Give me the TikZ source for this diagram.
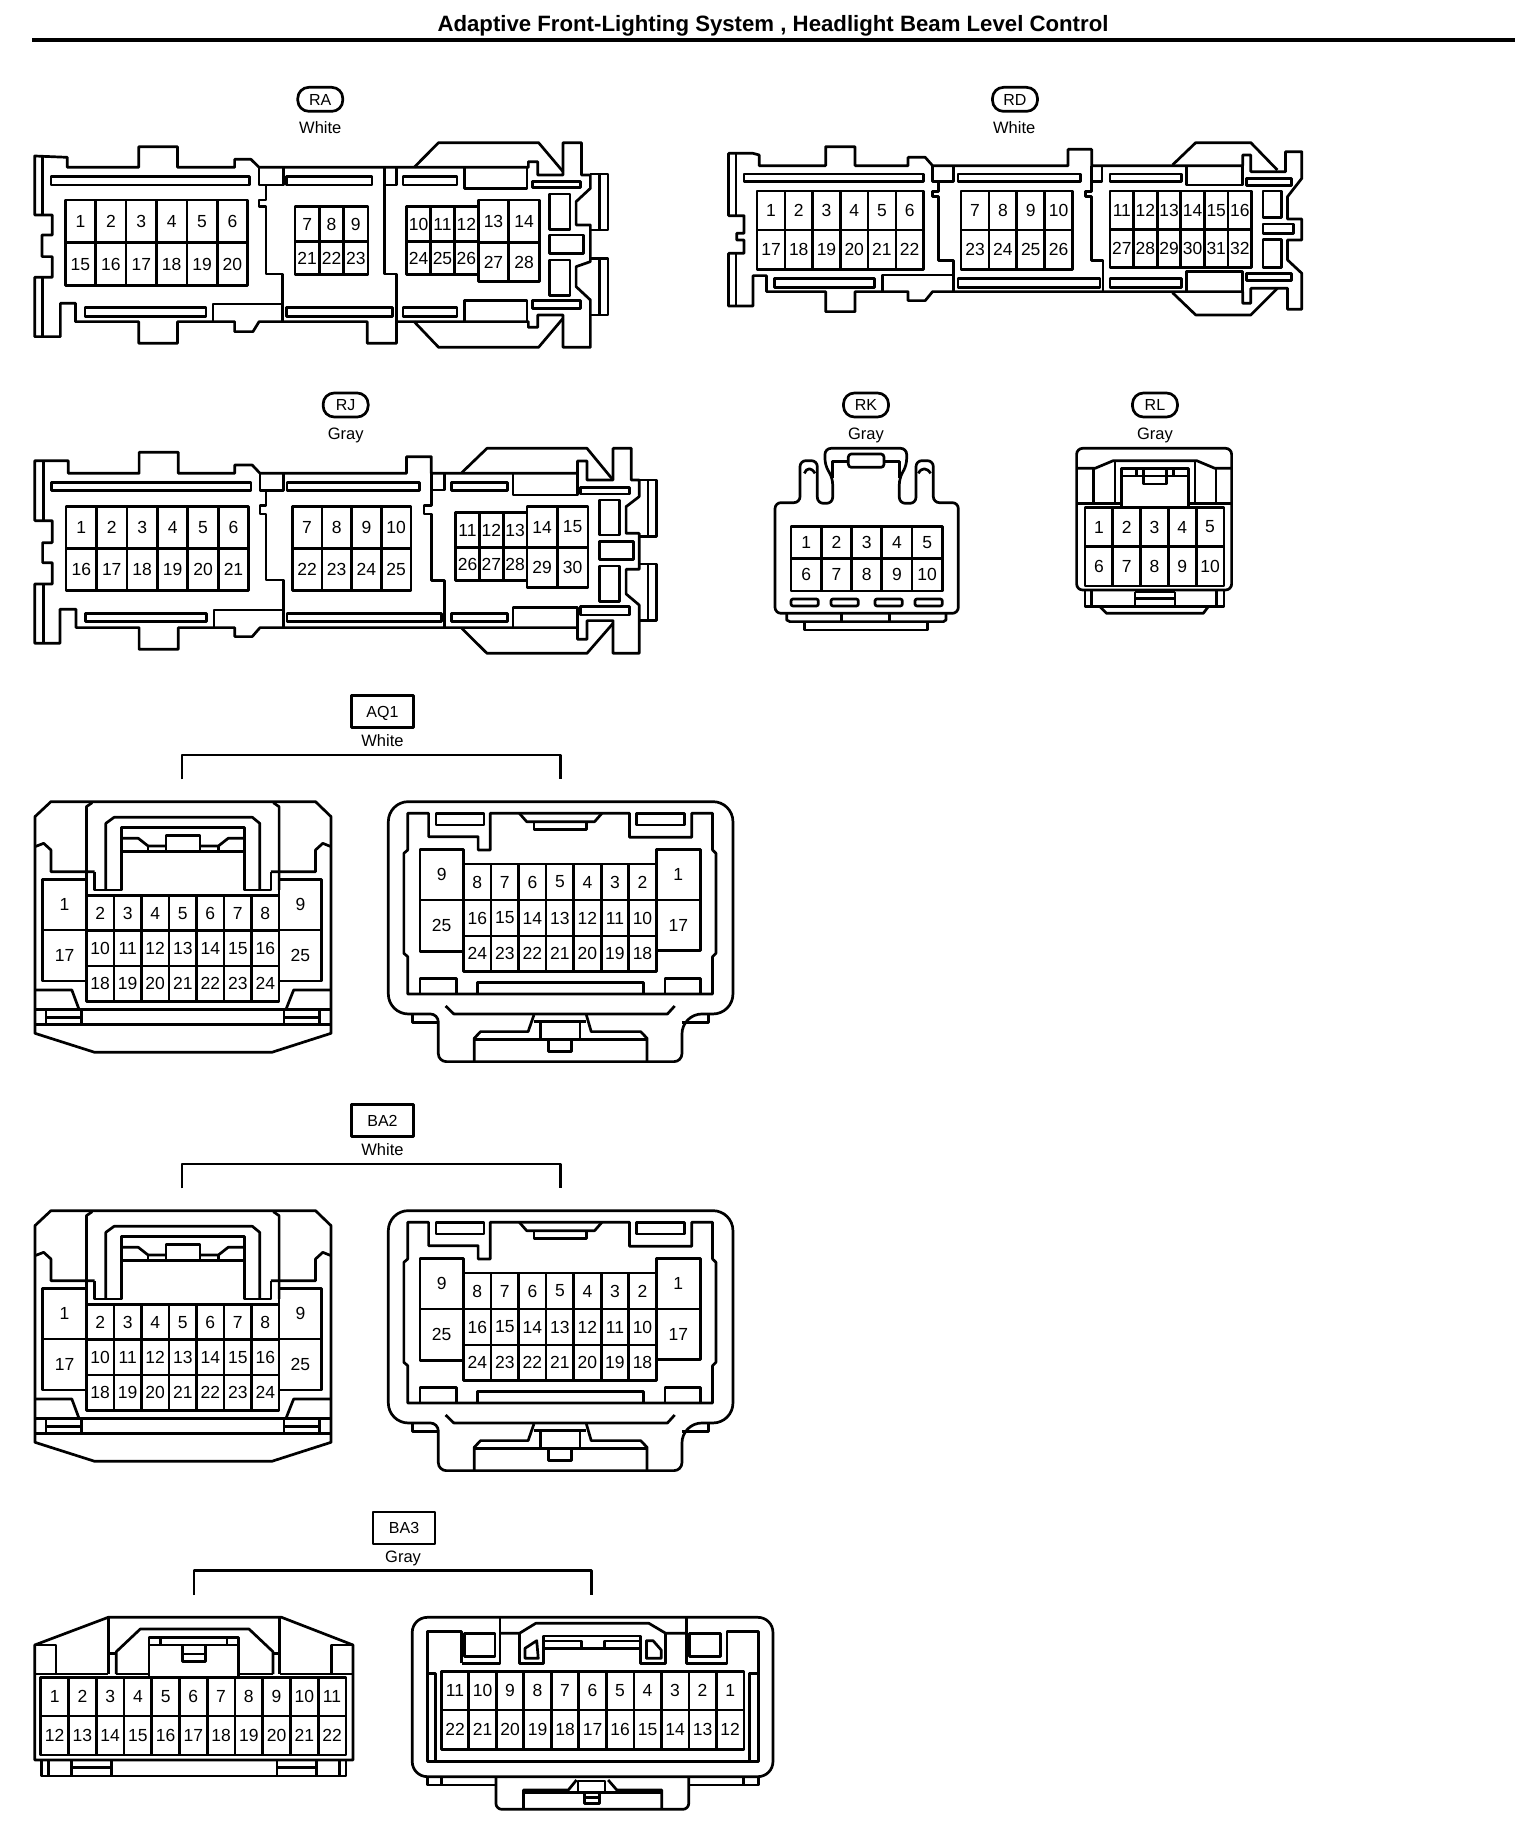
\documentclass[tikz,border=0pt]{standalone}
\usepackage{fontspec}
\setmainfont{Liberation Sans}
\newcommand{\pinrow}[7]{%
	\draw (#1,#4) rectangle (#2,#5);
	\foreach \k in {1,...,#3}{%
		\pgfmathsetmacro{\xa}{#1+(\k-1)*(#2-#1)/#3}
		\pgfmathsetmacro{\xb}{#1+\k*(#2-#1)/#3}
		\pgfmathtruncatemacro{\pinno}{#6+(\k-1)*(#7)}
		\ifnum\k<#3 \draw (\xb,#4) -- (\xb,#5);\fi
		\node[pin] (\conn-\pinno) at ({(\xa+\xb)/2},{(#4+#5)/2}) {\pinno};
	}}
% the white two-part housing, drawn twice
\newcommand{\twinhousing}[3]{%
	\node[tagbox] (#1tag) at (788,64) {#2};
	\node[collab] (#1col) at (788,150) {#3};
	\draw (375,268) -- (375,195) -- (1155,195) -- (1155,268);
	% left half
	\draw (105,335) -- (650,335) -- (682,380) -- (682,1030) -- (560,1087) -- (195,1087) -- (72,1030) -- (72,380) -- cycle;
	\draw (178,600) -- (178,350) -- (190,338);
	\draw (575,600) -- (575,350) -- (563,338);
	\draw (218,600) -- (218,400) -- (235,382) -- (520,382) -- (535,400) -- (535,600);
	\draw (195,545) -- (195,600) -- (250,600) -- (250,412) -- (503,412) -- (503,600) -- (558,600) -- (558,545);
	\draw (72,470) -- (90,460) -- (105,480) -- (105,545) -- (195,545);
	\draw (682,470) -- (665,460) -- (650,480) -- (650,545) -- (558,545);
	\draw (250,445) -- (285,445) -- (305,468) -- (342,468);
	\draw (342,485) -- (342,437) -- (412,437) -- (412,485);
	\draw (412,468) -- (450,468) -- (470,445) -- (503,445);
	\draw (250,485) -- (503,485);
	\draw (305,468) -- (305,485);
	\draw (450,468) -- (450,485);
	\def\conn{#1l}
	\pinrow{88}{178}{1}{568}{720}{1}{0}
	\pinrow{88}{178}{1}{720}{873}{17}{0}
	\pinrow{178}{575}{7}{617}{722}{2}{1}
	\pinrow{178}{575}{7}{722}{828}{10}{1}
	\pinrow{178}{575}{7}{828}{935}{18}{1}
	\pinrow{575}{663}{1}{568}{720}{9}{0}
	\pinrow{575}{663}{1}{720}{873}{25}{0}
	\draw (72,900) -- (148,900) -- (162,955);
	\draw (682,900) -- (605,900) -- (590,955);
	\draw (72,958) -- (682,958);
	\draw (72,1003) -- (682,1003);
	\draw (95,958) -- (95,1003);
	\draw (658,958) -- (658,1003);
	\draw (168,958) -- (168,1003);
	\draw (585,958) -- (585,1003);
	\draw (95,982) -- (168,982);
	\draw (585,982) -- (658,982);
	% right half
	\draw[rounded corners=20pt] (800,335) -- (1510,335) -- (1510,972) -- (1405,972) [rounded corners=8pt] -- (1405,1115) -- (903,1115) -- (903,972) [rounded corners=20pt] -- (800,972) -- cycle;
	\draw (840,912) -- (840,800) -- (832,790) -- (832,490) -- (840,480) -- (840,370) -- (883,370) -- (883,440) -- (985,440) -- (985,480) -- (1010,480) -- (1010,370) -- (1297,370) -- (1297,442) -- (1425,442) -- (1425,370) -- (1468,370) -- (1468,480) -- (1475,490) -- (1475,790) -- (1468,800) -- (1468,912) -- cycle;
	\draw (1070,370) -- (1085,395) -- (1225,395) -- (1240,370);
	\draw (1100,395) -- (1100,418) -- (1208,418) -- (1208,395);
	\draw (898,370) rectangle (997,405);
	\draw (1312,370) rectangle (1410,405);
	\draw (865,912) -- (865,865) -- (940,865) -- (940,912);
	\draw (1370,912) -- (1370,865) -- (1443,865) -- (1443,912);
	\draw (983,912) -- (983,877) -- (1325,877) -- (1325,912);
	\def\conn{#1r}
	\pinrow{865}{955}{1}{478}{630}{9}{0}
	\pinrow{865}{955}{1}{630}{785}{25}{0}
	\pinrow{955}{1352}{7}{522}{630}{8}{-1}
	\pinrow{955}{1352}{7}{630}{738}{16}{-1}
	\pinrow{955}{1352}{7}{738}{845}{24}{-1}
	\pinrow{1352}{1443}{1}{478}{630}{1}{0}
	\pinrow{1352}{1443}{1}{630}{782}{17}{0}
	\draw (918,948) -- (935,972) -- (1375,972) -- (1390,948);
	\draw (1100,975) -- (1088,1025) -- (990,1025) -- (977,1045) -- (977,1115);
	\draw (1208,975) -- (1218,1025) -- (1320,1025) -- (1333,1045) -- (1333,1115);
	\draw (977,1048) -- (1333,1048);
	\draw (1113,995) -- (1113,1048);
	\draw (1195,995) -- (1195,1048);
	\draw (1100,995) -- (1208,995);
	\draw (1130,1048) -- (1130,1085) -- (1178,1085) -- (1178,1048);
	\draw (850,972) -- (850,997) -- (903,997);
	\draw (1405,997) -- (1460,997) -- (1460,972);
}
\begin{document}
\begin{tikzpicture}[x=1pt,y=-1pt,line width=2.7pt,line join=round]
	\tikzstyle{pin}=[font=\fontsize{17.5}{18}\selectfont,inner sep=0pt];
	\tikzstyle{collab}=[font=\fontsize{16.5}{17}\selectfont,inner sep=0pt,text height=12pt,text depth=0pt];
	\tikzstyle{tagoval}=[draw,rounded corners=11pt,minimum width=45pt,minimum height=24pt,inner sep=0pt,font=\fontsize{16}{16}\selectfont,text height=11.5pt,text depth=0pt];
	\tikzstyle{tagbox}=[draw,minimum width=62pt,minimum height=32pt,inner sep=0pt,font=\fontsize{16}{16}\selectfont,text height=11.5pt,text depth=0pt];
	\useasboundingbox (0,0) rectangle (1536,1836);
	\node[font=\bfseries\fontsize{22.2}{22}\selectfont,inner sep=0pt] (title) at (773,26) {Adaptive Front-Lighting System , Headlight Beam Level Control};
	\coordinate (ruleL) at (32,40);
	\coordinate (ruleR) at (1515,40);
	\draw[line width=3.5pt] (ruleL) -- (ruleR);

	% RA
	\begin{scope}[shift={(0,70)},xscale=0.408,yscale=0.3333]
		\def\conn{RA}
		\node[tagoval] (RAtag) at (785,88) {RA};
		\node[collab] (RAcol) at (785,172) {White};
		\draw (165,292) -- (165,262) -- (85,258) -- (85,435) -- (128,435) -- (128,495) -- (103,495) -- (103,560) -- (128,560) -- (128,622) -- (85,622) -- (85,800) -- (148,800) -- (148,700) -- (185,700) -- (185,755) -- (340,755) -- (340,820) -- (435,820) -- (435,755) -- (575,755) -- (575,785) -- (620,785) -- (635,755) -- (900,755) -- (900,820) -- (972,820) -- (972,755) -- (1295,755) -- (1295,772) -- (1318,772) -- (1318,735) -- (1380,735) -- (1380,832) -- (1447,832) -- (1447,690) -- (1412,650) -- (1412,590) -- (1447,575) -- (1447,465) -- (1412,465) -- (1412,395) -- (1447,355) -- (1447,315) -- (1425,315) -- (1425,218) -- (1380,218) -- (1380,315) -- (1318,315) -- (1318,275) -- (1295,275) -- (1295,292) -- (635,292) -- (615,268) -- (575,268) -- (575,292) -- (435,292) -- (435,230) -- (340,230) -- (340,292) -- cycle;
		\draw (1015,292) -- (1075,218) -- (1320,218) -- (1380,305);
		\draw (1015,755) -- (1075,832) -- (1320,832) -- (1380,745);
		\draw (1447,312) -- (1490,312) -- (1490,480) -- (1447,480);
		\draw (1447,735) -- (1490,735) -- (1490,565) -- (1447,565);
		\draw (1470,312) -- (1470,480);
		\draw (1470,565) -- (1470,735);
		\draw (105,258) -- (105,435);
		\draw (105,622) -- (105,800);
		\draw (635,292) -- (635,345) -- (695,345) -- (695,292);
		\draw (652,345) -- (652,390) -- (635,390) -- (635,410) -- (652,410) -- (652,612) -- (692,612) -- (692,755);
		\draw (942,292) -- (942,612) -- (972,612) -- (972,755);
		\draw (942,345) -- (972,345) -- (972,292);
		\draw (125,320) rectangle (612,345);
		\draw (703,320) rectangle (912,345);
		\draw (988,320) rectangle (1120,345);
		\draw (1138,292) -- (1138,355) -- (1292,355) -- (1292,292);
		\draw (1305,335) rectangle (1422,352);
		\draw (208,712) rectangle (505,740);
		\draw (703,712) rectangle (962,740);
		\draw (988,712) rectangle (1120,740);
		\draw (522,755) -- (522,702) -- (692,702);
		\draw (1138,755) -- (1138,692) -- (1292,692) -- (1292,755);
		\draw (1305,692) rectangle (1422,716);
		\draw (1347,372) rectangle (1397,478);
		\draw (1347,495) rectangle (1430,550);
		\draw (1347,570) rectangle (1397,677);
		\pinrow{160}{607}{6}{390}{518}{1}{1}
		\pinrow{160}{607}{6}{518}{647}{15}{1}
		\pinrow{723}{902}{3}{410}{515}{7}{1}
		\pinrow{723}{902}{3}{515}{613}{21}{1}
		\pinrow{997}{1172}{3}{410}{515}{10}{1}
		\pinrow{997}{1172}{3}{515}{613}{24}{1}
		\pinrow{1172}{1322}{2}{390}{518}{13}{1}
		\pinrow{1172}{1322}{2}{518}{635}{27}{1}
	\end{scope}

	% RD
	\begin{scope}[shift={(700,70)},xscale=0.408,yscale=0.3333]
		\def\conn{RD}
		\node[tagoval] (RDtag) at (772,88) {RD};
		\node[collab] (RDcol) at (770,172) {White};
		\draw (145,287) -- (145,255) -- (130,250) -- (70,250) -- (70,437) -- (108,437) -- (108,490) -- (90,490) -- (90,510) -- (108,510) -- (108,550) -- (70,550) -- (70,708) -- (130,708) -- (130,617) -- (163,617) -- (163,665) -- (308,665) -- (308,725) -- (380,725) -- (380,665) -- (510,665) -- (510,692) -- (552,692) -- (570,665) -- (1330,665) -- (1330,700) -- (1350,700) -- (1350,655) -- (1440,655) -- (1440,718) -- (1475,718) -- (1475,610) -- (1440,570) -- (1440,510) -- (1475,510) -- (1475,447) -- (1440,447) -- (1440,380) -- (1475,325) -- (1475,245) -- (1435,245) -- (1435,305) -- (1350,305) -- (1350,255) -- (1330,255) -- (1330,287) -- (960,287) -- (960,238) -- (902,238) -- (902,287) -- (570,287) -- (552,262) -- (510,262) -- (510,287) -- (380,287) -- (380,230) -- (308,230) -- (308,287) -- cycle;
		\draw (1158,285) -- (1215,218) -- (1350,218) -- (1415,300);
		\draw (1158,668) -- (1215,735) -- (1350,735) -- (1415,655);
		\draw (88,250) -- (88,437);
		\draw (88,550) -- (88,708);
		\draw (570,287) -- (570,335) -- (622,335) -- (622,287);
		\draw (585,335) -- (585,365) -- (570,365) -- (570,380) -- (585,380) -- (585,572) -- (622,572) -- (622,665);
		\draw (960,287) -- (960,365) -- (945,365) -- (945,380) -- (960,380) -- (960,572) -- (988,572) -- (988,665);
		\draw (960,335) -- (985,335) -- (985,287);
		\draw (108,312) rectangle (548,335);
		\draw (632,312) rectangle (932,335);
		\draw (1005,312) rectangle (1180,335);
		\draw (1193,287) -- (1193,345) -- (1330,345) -- (1330,287);
		\draw (1340,325) rectangle (1450,347);
		\draw (183,625) rectangle (428,652);
		\draw (632,625) rectangle (980,652);
		\draw (1005,625) rectangle (1180,652);
		\draw (448,665) -- (448,615) -- (622,615);
		\draw (1193,665) -- (1193,605) -- (1330,605) -- (1330,665);
		\draw (1340,610) rectangle (1450,632);
		\draw (1380,363) rectangle (1425,442);
		\draw (1380,462) rectangle (1455,490);
		\draw (1380,508) rectangle (1425,592);
		\pinrow{140}{548}{6}{363}{480}{1}{1}
		\pinrow{140}{548}{6}{480}{598}{17}{1}
		\pinrow{640}{913}{4}{363}{480}{7}{1}
		\pinrow{640}{913}{4}{480}{598}{23}{1}
		\pinrow{1005}{1352}{6}{363}{478}{11}{1}
		\pinrow{1005}{1352}{6}{478}{592}{27}{1}
	\end{scope}

	% RJ
	\begin{scope}[shift={(0,390)},xscale=0.4348,yscale=0.3333]
		\def\conn{RJ}
		\node[tagoval] (RJtag) at (795,45) {RJ};
		\node[collab] (RJcol) at (795,130) {Gray};
		\draw (157,250) -- (157,212) -- (80,212) -- (80,392) -- (120,392) -- (120,458) -- (98,458) -- (98,518) -- (120,518) -- (120,582) -- (80,582) -- (80,760) -- (138,760) -- (138,658) -- (175,658) -- (175,713) -- (320,713) -- (320,778) -- (410,778) -- (410,713) -- (540,713) -- (540,740) -- (580,740) -- (598,713) -- (1328,713) -- (1328,748) -- (1350,748) -- (1350,692) -- (1410,692) -- (1410,790) -- (1470,790) -- (1470,645) -- (1440,612) -- (1440,538) -- (1470,538) -- (1470,430) -- (1440,430) -- (1440,350) -- (1470,320) -- (1470,270) -- (1452,270) -- (1452,175) -- (1410,175) -- (1410,270) -- (1350,270) -- (1350,213) -- (1328,213) -- (1328,250) -- (992,250) -- (992,200) -- (935,200) -- (935,250) -- (598,250) -- (580,225) -- (540,225) -- (540,250) -- (410,250) -- (410,187) -- (320,187) -- (320,250) -- cycle;
		\draw (1062,248) -- (1120,175) -- (1350,175) -- (1410,270);
		\draw (1062,715) -- (1120,790) -- (1350,790) -- (1410,700);
		\draw (1470,270) -- (1510,270) -- (1510,440) -- (1470,440);
		\draw (1470,692) -- (1510,692) -- (1510,522) -- (1470,522);
		\draw (1490,270) -- (1490,440);
		\draw (1490,522) -- (1490,692);
		\draw (100,212) -- (100,392);
		\draw (100,582) -- (100,760);
		\draw (598,250) -- (598,302) -- (652,302) -- (652,250);
		\draw (612,302) -- (612,347) -- (598,347) -- (598,372) -- (612,372) -- (612,570) -- (652,570) -- (652,713);
		\draw (992,250) -- (992,347) -- (975,347) -- (975,372) -- (992,372) -- (992,572) -- (1022,572) -- (1022,713);
		\draw (992,300) -- (1022,300) -- (1022,250);
		\draw (118,277) rectangle (577,302);
		\draw (660,277) rectangle (965,302);
		\draw (1038,277) rectangle (1167,302);
		\draw (1180,250) -- (1180,315) -- (1328,315) -- (1328,250);
		\draw (1335,292) rectangle (1447,312);
		\draw (197,670) rectangle (475,695);
		\draw (660,670) rectangle (1015,695);
		\draw (1038,670) rectangle (1167,695);
		\draw (492,713) -- (492,660) -- (652,660);
		\draw (1180,713) -- (1180,652) -- (1328,652) -- (1328,713);
		\draw (1335,650) rectangle (1447,675);
		\draw (1378,330) rectangle (1425,435);
		\draw (1378,455) rectangle (1457,508);
		\draw (1378,528) rectangle (1425,635);
		\pinrow{152}{572}{6}{350}{475}{1}{1}
		\pinrow{152}{572}{6}{475}{602}{16}{1}
		\pinrow{672}{945}{4}{350}{475}{7}{1}
		\pinrow{672}{945}{4}{475}{602}{22}{1}
		\pinrow{1048}{1212}{3}{368}{472}{11}{1}
		\pinrow{1048}{1212}{3}{472}{572}{26}{1}
		\pinrow{1212}{1352}{2}{350}{472}{14}{1}
		\pinrow{1212}{1352}{2}{472}{592}{29}{1}
	\end{scope}

	% RK and RL
	\begin{scope}[shift={(760,390)},scale=0.3333]
		\def\conn{RK}
		\node[tagoval] (RKtag) at (318,45) {RK};
		\node[collab] (RKcol) at (318,130) {Gray};
		\draw[rounded corners=6pt] (120,338) -- (45,338) -- (45,670) -- (595,670) -- (595,338) -- (520,338) -- (520,212) -- (468,212) -- (468,340) -- (418,340) -- (418,265) -- (440,225) -- (440,175) -- (195,175) -- (195,225) -- (218,265) -- (218,340) -- (172,340) -- (172,212) -- (120,212) -- cycle;
		\draw (218,265) -- (218,215) -- (418,215) -- (418,265);
		\draw[fill=white,rounded corners=3pt] (265,192) rectangle (372,232);
		\draw (133,250) .. controls (140,232) and (155,232) .. (165,250);
		\draw (475,250) .. controls (485,232) and (500,232) .. (512,250);
		\pinrow{93}{547}{5}{410}{505}{1}{1}
		\pinrow{93}{547}{5}{505}{603}{6}{1}
		\foreach \sx in {93,213,345,465}
			\draw[rounded corners=2pt] (\sx,627) rectangle ++(82,21);
		\draw (80,670) -- (80,690) -- (90,695) -- (550,695) -- (558,690) -- (558,670);
		\draw (245,672) -- (245,695);
		\draw (388,672) -- (388,695);
		\draw (133,695) -- (133,720) -- (503,720) -- (503,695);

		\def\conn{RL}
		\node[tagoval] (RLtag) at (1185,45) {RL};
		\node[collab] (RLcol) at (1185,130) {Gray};
		\draw[rounded corners=6pt] (950,175) rectangle (1415,600);
		\draw (950,235) -- (1005,235) -- (1060,212) -- (1310,212) -- (1365,235) -- (1415,235);
		\draw (1000,235) -- (1000,340);
		\draw (1368,235) -- (1368,340);
		\draw (950,340) -- (1085,340);
		\draw (1285,340) -- (1415,340);
		\draw (1065,212) -- (1065,340);
		\draw (1305,212) -- (1305,340);
		\draw (1085,352) -- (1085,235) -- (1285,235) -- (1285,352);
		\draw (1085,258) -- (1285,258);
		\draw (1130,238) -- (1130,258);
		\draw (1240,238) -- (1240,258);
		\draw (1150,238) -- (1150,282) -- (1220,282) -- (1220,238);
		\pinrow{975}{1392}{5}{352}{470}{1}{1}
		\pinrow{975}{1392}{5}{470}{588}{6}{1}
		\draw (975,600) -- (975,650) -- (1392,650) -- (1392,600);
		\draw (995,600) -- (995,650);
		\draw (1370,600) -- (1370,650);
		\draw (1020,650) -- (1040,670) -- (1330,670) -- (1345,650);
		\draw (1125,605) -- (1125,650);
		\draw (1245,605) -- (1245,650);
		\draw (1125,605) -- (1245,605);
		\draw (1125,625) -- (1245,625);
	\end{scope}

	% AQ1 and BA2
	\begin{scope}[shift={(0,690)},xscale=0.4854,yscale=0.3333]
		\twinhousing{AQ1}{AQ1}{White}
	\end{scope}
	\begin{scope}[shift={(0,1099)},xscale=0.4854,yscale=0.3333]
		\twinhousing{BA2}{BA2}{White}
	\end{scope}

	% BA3
	\begin{scope}[shift={(0,1530)},xscale=0.5102,yscale=0.3333]
		\node[tagbox] (BA3tag) at (792,-6) {BA3};
		\node[collab] (BA3col) at (790,78) {Gray};
		\draw (380,195) -- (380,122) -- (1160,122) -- (1160,195);
		\def\conn{BA3l}
		\draw (68,345) -- (212,262) -- (552,262) -- (692,345) -- (692,690) -- (68,690) -- cycle;
		\draw (212,262) -- (212,432);
		\draw (548,262) -- (548,432);
		\draw (68,345) -- (110,345) -- (110,432);
		\draw (650,432) -- (650,345) -- (692,345);
		\draw (68,432) -- (212,432);
		\draw (548,432) -- (692,432);
		\draw (228,432) -- (228,365) -- (275,297) -- (488,297) -- (535,365) -- (535,432);
		\draw (228,432) -- (292,432);
		\draw (468,432) -- (535,432);
		\draw (212,370) -- (228,370);
		\draw (535,370) -- (548,370);
		\draw (292,440) -- (292,322) -- (468,322) -- (468,440);
		\draw (292,345) -- (468,345);
		\draw (315,322) -- (315,345);
		\draw (445,322) -- (445,345);
		\draw (358,345) -- (358,395) -- (403,395) -- (403,345);
		\draw (358,372) -- (403,372);
		\pinrow{80}{678}{11}{442}{558}{1}{1}
		\pinrow{80}{678}{11}{558}{675}{12}{1}
		\draw (82,690) -- (82,738) -- (678,738) -- (678,690);
		\draw (95,690) -- (95,738);
		\draw (665,690) -- (665,738);
		\draw (140,690) -- (140,738);
		\draw (218,690) -- (218,738);
		\draw (140,712) -- (218,712);
		\draw (543,690) -- (543,738);
		\draw (620,690) -- (620,738);
		\draw (543,712) -- (620,712);
		\def\conn{BA3r}
		\draw[rounded corners=15pt] (808,262) rectangle (1515,740);
		\draw (905,400) -- (905,305) -- (838,305) -- (838,695) -- (1487,695) -- (1487,305) -- (1425,305) -- (1425,400) -- (1345,400) -- (1345,262);
		\draw (980,262) -- (980,400) -- (905,400);
		\draw (980,310) -- (1018,310) -- (1050,280) -- (1272,280) -- (1305,310) -- (1345,310);
		\draw (1018,310) -- (1018,400) -- (1065,400) -- (1065,318) -- (1255,318) -- (1255,400) -- (1305,400) -- (1305,310);
		\draw (910,310) rectangle (970,380);
		\draw (1352,310) rectangle (1412,380);
		\draw (1065,333) -- (1140,333) -- (1140,355);
		\draw (1185,355) -- (1185,333) -- (1255,333);
		\draw (1065,355) -- (1255,355);
		\draw (1029,385) -- (1029,355) -- (1052,332) -- (1055,385) -- cycle;
		\draw (1267,332) -- (1280,332) -- (1296,360) -- (1296,385) -- (1267,385) -- cycle;
		\pinrow{865}{1458}{11}{425}{540}{11}{-1}
		\pinrow{865}{1458}{11}{540}{658}{22}{-1}
		\draw (838,430) -- (853,430) -- (853,695);
		\draw (1487,430) -- (1469,430) -- (1469,695);
		\draw (838,740) -- (838,765) -- (972,765);
		\draw (1350,765) -- (1487,765) -- (1487,740);
		\draw (866,745) -- (866,765);
		\draw (1457,745) -- (1457,765);
		\draw[rounded corners=6pt] (972,740) -- (972,838) -- (1350,838) -- (1350,740);
		\draw (1026,838) -- (1026,780) -- (1114,780) -- (1130,750);
		\draw (1297,838) -- (1297,780) -- (1209,780) -- (1192,750);
		\draw (1026,788) -- (1297,788);
		\draw (1133,788) -- (1133,753) -- (1186,753) -- (1186,788);
		\draw (1145,788) -- (1145,820) -- (1175,820) -- (1175,788);
		\draw (1145,803) -- (1175,803);
	\end{scope}
\end{tikzpicture}
\end{document}
